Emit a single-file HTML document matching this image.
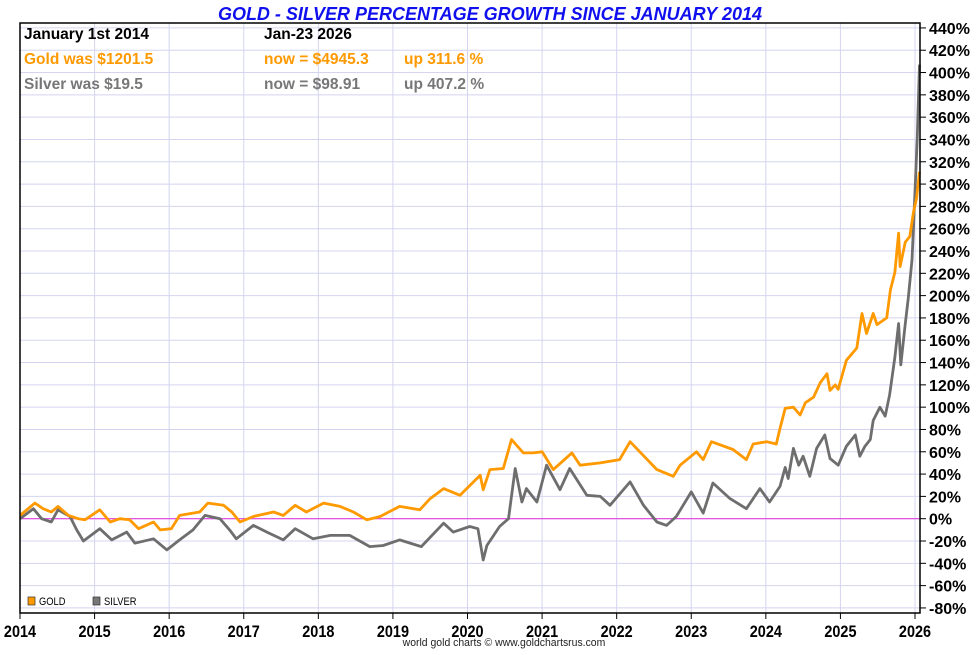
<!DOCTYPE html>
<html><head><meta charset="utf-8"><style>
body{margin:0;background:#fff;font-family:"Liberation Sans",sans-serif}
svg text{font-family:"Liberation Sans",sans-serif}
</style></head><body>
<svg id="c" width="980" height="650">
<text x="490" y="20" text-anchor="middle" fill="#1010ee" font-size="18" font-weight="bold" font-style="italic">GOLD - SILVER PERCENTAGE GROWTH SINCE JANUARY 2014</text>
<g id="grid"></g>
<g id="series"></g>
<rect x="20" y="23" width="900" height="590" fill="none" stroke="#000" stroke-width="1.5"/>
<g font-size="15.5" font-weight="bold">
<text x="24" y="39" fill="#000">January 1st 2014</text>
<text x="264" y="39" fill="#000">Jan-23  2026</text>
<text x="24" y="64" fill="#ff9900">Gold was $1201.5</text>
<text x="264" y="64" fill="#ff9900">now = $4945.3</text>
<text x="404" y="64" fill="#ff9900">up 311.6 %</text>
<text x="24" y="89" fill="#777">Silver was $19.5</text>
<text x="264" y="89" fill="#777">now = $98.91</text>
<text x="404" y="89" fill="#777">up 407.2 %</text>
</g>
<g font-size="11">
<rect x="28" y="597" width="7" height="8" fill="#ff9900" stroke="#333" stroke-width="0.7"/>
<text x="39" y="605" transform="translate(39 0) scale(0.85 1) translate(-39 0)">GOLD</text>
<rect x="93" y="597" width="7" height="8" fill="#777" stroke="#333" stroke-width="0.7"/>
<text x="104" y="605" transform="translate(104 0) scale(0.85 1) translate(-104 0)">SILVER</text>
</g>
<text x="504" y="646" text-anchor="middle" font-size="11" fill="#222" transform="translate(504 0) scale(0.95 1) translate(-504 0)">world gold charts © www.goldchartsrus.com</text>
</svg>
<script>
const yTicks=[440,420,400,380,360,340,320,300,280,260,240,220,200,180,160,140,120,100,80,60,40,20,0,-20,-40,-60,-80];
const years=[2014,2015,2016,2017,2018,2019,2020,2021,2022,2023,2024,2025,2026];
const goldT=[2014,2014.2,2014.31,2014.42,2014.51,2014.65,2014.78,2014.87,2015.07,2015.21,2015.34,2015.47,2015.59,2015.79,2015.88,2016.03,2016.14,2016.41,2016.52,2016.73,2016.84,2016.95,2017.13,2017.4,2017.53,2017.69,2017.84,2018.07,2018.29,2018.47,2018.65,2018.83,2019.09,2019.36,2019.5,2019.68,2019.9,2020.17,2020.21,2020.3,2020.48,2020.59,2020.75,2020.88,2021.0,2021.15,2021.4,2021.51,2021.78,2022.04,2022.18,2022.31,2022.54,2022.76,2022.85,2023.07,2023.16,2023.27,2023.56,2023.74,2023.83,2024.01,2024.14,2024.19,2024.26,2024.37,2024.46,2024.53,2024.64,2024.73,2024.82,2024.86,2024.93,2024.97,2025.08,2025.22,2025.29,2025.35,2025.44,2025.49,2025.62,2025.67,2025.73,2025.78,2025.80,2025.87,2025.93,2025.98,2026.02,2026.06];
const goldV=[3,14,9,6,11,3,0,-1,8,-3,0,-1,-9,-3,-10,-9,3,6,14,12,6,-3,2,6,3,12,6,14,11,6,-1,2,11,8,18,27,21,39,26,44,45,71,59,59,60,44,59,48,50,53,69,60,44,38,48,60,53,69,62,53,67,69,67,81,99,100,93,104,109,122,130,115,120,116,142,153,184,166,184,174,180,205,221,256,226,248,253,275,287,311];
const silverT=[2014,2014.18,2014.29,2014.42,2014.51,2014.67,2014.76,2014.85,2015.07,2015.23,2015.43,2015.54,2015.79,2015.97,2016.14,2016.32,2016.48,2016.68,2016.81,2016.9,2017.13,2017.31,2017.53,2017.69,2017.93,2018.16,2018.42,2018.69,2018.87,2019.09,2019.38,2019.68,2019.81,2020.03,2020.14,2020.21,2020.26,2020.43,2020.55,2020.64,2020.73,2020.79,2020.93,2021.06,2021.24,2021.37,2021.6,2021.78,2021.91,2022.18,2022.36,2022.54,2022.67,2022.8,2023.0,2023.16,2023.29,2023.52,2023.74,2023.92,2024.05,2024.19,2024.26,2024.3,2024.37,2024.44,2024.5,2024.59,2024.68,2024.79,2024.86,2024.97,2025.08,2025.2,2025.26,2025.33,2025.4,2025.44,2025.53,2025.6,2025.66,2025.73,2025.78,2025.81,2025.87,2025.91,2025.96,2025.98,2026.03,2026.06];
const silverV=[0,9,0,-3,8,2,-10,-20,-9,-19,-12,-22,-18,-28,-19,-10,3,0,-10,-18,-6,-12,-19,-9,-18,-15,-15,-25,-24,-19,-25,-4,-12,-7,-9,-37,-24,-7,0,45,15,27,15,48,26,45,21,20,12,33,12,-3,-6,2,24,5,32,18,9,27,15,29,46,36,63,48,56,38,63,75,54,48,65,75,56,65,71,88,100,92,111,145,175,138,175,198,232,262,340,407];
const X0=20,X1=915,Y0=518.7,PY=1.1154;
const sx=t=>X0+(t-2014)*(X1-X0)/12;
const sy=v=>Y0-v*PY;
const NS='http://www.w3.org/2000/svg';
const svg=document.getElementById('c'),grid=document.getElementById('grid'),ser=document.getElementById('series');
function mk(tag,attrs,parent){const e=document.createElementNS(NS,tag);for(const k in attrs)e.setAttribute(k,attrs[k]);parent.appendChild(e);return e;}
yTicks.forEach(v=>{
 const y=sy(v);
 const g=mk('line',{x1:20,x2:920,y1:y,y2:y,stroke:'#d4d4f0','stroke-width':1},grid);
 
 
 const tk=mk('line',{x1:920,x2:926,y1:y,y2:y,stroke:'#000'},svg);
 
 
 const t=mk('text',{x:929,y:y+6,'font-size':16,'font-weight':'bold'},svg);
 t.textContent=v+'%';
 
 
});
years.forEach(yr=>{
 const x=sx(yr);
 const g=mk('line',{x1:x,x2:x,y1:23,y2:613,stroke:'#d4d4f0','stroke-width':1},grid);
 
 
 const tk=mk('line',{x1:x,x2:x,y1:613,y2:619,stroke:'#000'},svg);
 
 
 const t=mk('text',{x:x,y:637,'font-size':17,'font-weight':'bold','text-anchor':'middle',transform:`translate(${x} 0) scale(0.85 1) translate(${-x} 0)`},svg);
 t.textContent=yr;
 
 
});
const zl=mk('line',{x1:20,x2:920,y1:sy(0),y2:sy(0),stroke:'#e040e0','stroke-width':1.2},grid);


const sp=mk('path',{d:silverT.map((t,i)=>(i?'L':'M')+sx(t).toFixed(1)+' '+sy(silverV[i]).toFixed(1)).join(''),fill:'none',stroke:'#6e6e6e','stroke-width':2.8,'stroke-linejoin':'round'},ser);


const gp=mk('path',{d:goldT.map((t,i)=>(i?'L':'M')+sx(t).toFixed(1)+' '+sy(goldV[i]).toFixed(1)).join(''),fill:'none',stroke:'#ff9900','stroke-width':2.8,'stroke-linejoin':'round'},ser);


</script>
</body></html>
